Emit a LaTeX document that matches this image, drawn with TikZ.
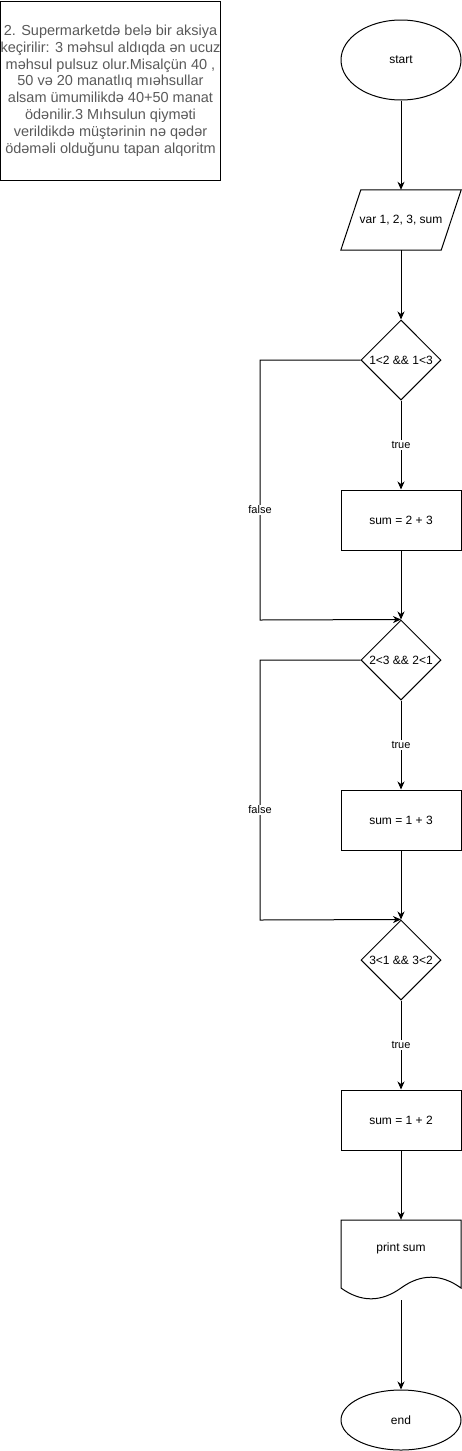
\documentclass[tikz,border=0pt]{standalone}
\usepackage{fontspec}
\setmainfont{Liberation Sans}
\usetikzlibrary{shapes.geometric,arrows.meta}
\begin{document}
\begin{tikzpicture}[x=1pt,y=-1pt,
  every node/.style={font=\fontsize{12}{14}\selectfont, inner sep=0pt},
  shp/.style={draw, line width=1pt},
  term/.style={shp, ellipse, minimum width=120pt, minimum height=80pt},
  proc/.style={shp, rectangle, minimum width=120pt, minimum height=60pt},
  dec/.style={shp, diamond, minimum width=80pt, minimum height=80pt},
  arr/.style={line width=1pt, -{Stealth[length=8pt,width=7pt,inset=2.5pt]}},
  lbl/.style={font=\fontsize{11}{13}\selectfont, fill=white, inner sep=1pt},
]
\useasboundingbox (0,0) rectangle (461,1451);

\node[draw, line width=1pt, minimum width=219pt, minimum height=179pt, align=center,
      text=black!65, font=\fontsize{14.5}{16.8}\selectfont] (note) at (110.5,90.5)
 {2. Supermarketdə belə bir aksiya\\keçirilir: 3 məhsul aldıqda ən ucuz\\məhsul pulsuz olur.Misalçün 40 ,\\50 və 20 manatlıq mıəhsullar\\alsam ümumilikdə 40+50 manat\\ödənilir.3 Mıhsulun qiyməti\\verildikdə müştərinin nə qədər\\ödəməli olduğunu tapan alqoritm};

\node[term] (start) at (401,60) {start};
\node[minimum width=120pt, minimum height=60pt] (var) at (401,220) {var 1, 2, 3, sum};
\draw[shp] ([xshift=20pt]var.north west) -- (var.north east) -- ([xshift=-20pt]var.south east) -- (var.south west) -- cycle;

\node[dec, label=center:{1<2 \&\& 1<3}] (d1) at (401,360) {};
\node[proc] (p1) at (401,520) {sum = 2 + 3};
\node[dec, label=center:{2<3 \&\& 2<1}] (d2) at (401,660) {};
\node[proc] (p2) at (401,820) {sum = 1 + 3};
\node[dec, label=center:{3<1 \&\& 3<2}] (d3) at (401,960) {};
\node[proc] (p3) at (401,1120) {sum = 1 + 2};

\node[minimum width=120pt, minimum height=80pt, label={[yshift=12pt]center:print sum}] (doc) at (401,1260) {};
\draw[shp] (341,1220) -- (461,1220) -- (461,1288) .. controls (441,1273.6) and (421,1273.6) .. (401,1288)
  .. controls (381,1302.4) and (361,1302.4) .. (341,1288) -- cycle;

\node[term, minimum height=60pt] (end) at (401,1420) {end};

\coordinate (l1a) at (260,360);
\coordinate (l1b) at (260,620);
\coordinate (l2a) at (260,660);
\coordinate (l2b) at (260,920);

\draw[arr] (start) -- (var);
\draw[arr] (var) -- (d1);
\draw[arr] (d1) -- node[lbl]{true} (p1);
\draw[arr] (d1.west) -- (l1a) -- node[lbl,pos=0.577]{false} (l1b) -- (d2.north);
\draw[arr] (p1) -- (d2);
\draw[arr] (d2) -- node[lbl]{true} (p2);
\draw[arr] (d2.west) -- (l2a) -- node[lbl,pos=0.577]{false} (l2b) -- (d3.north);
\draw[arr] (p2) -- (d3);
\draw[arr] (d3) -- node[lbl]{true} (p3);
\draw[arr] (p3) -- (doc);
\draw[arr] (doc) -- (end);
\end{tikzpicture}
\end{document}
